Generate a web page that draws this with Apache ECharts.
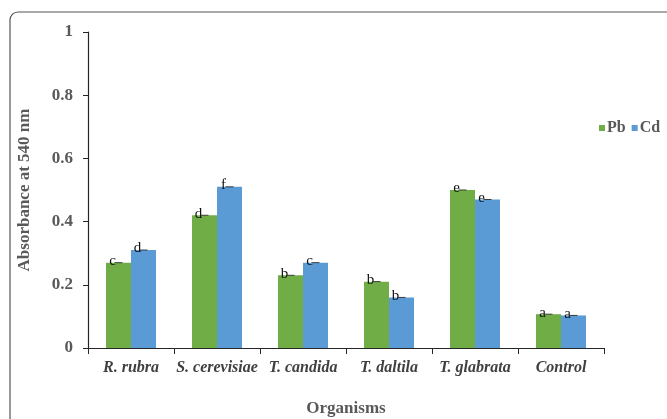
<!DOCTYPE html>
<html>
<head>
<meta charset="utf-8">
<script src="https://cdn.jsdelivr.net/npm/echarts@6/dist/echarts.min.js"></script>
<style>
  html, body { margin: 0; padding: 0; background: #fff; }
  #chart { width: 667px; height: 419px; }
</style>
</head>
<body>
<div id="chart"></div>
<script>
// Organisms on the x axis
const organisms = ['R. rubra', 'S. cerevisiae', 'T. candida', 'T. daltila', 'T. glabrata', 'Control'];
// Absorbance at 540 nm for each metal
const pbValues = [0.27, 0.42, 0.23, 0.21, 0.50, 0.107];
const cdValues = [0.31, 0.51, 0.27, 0.16, 0.47, 0.103];
// Significance letters above each bar
const pbLetters = ['c', 'd', 'b', 'b', 'e', 'a'];
const cdLetters = ['d', 'f', 'c', 'b', 'e', 'a'];
// Y axis ticks
const yTicks = [0, 0.2, 0.4, 0.6, 0.8, 1];

const serif = '"Liberation Serif", "Times New Roman", serif';
const BAR_W = 25;
const chart = echarts.init(document.getElementById('chart'));

function letterLabel(letters) {
  return {
    show: true,
    position: 'top',
    distance: 0,
    offset: [-6, 6],
    formatter: p => letters[p.dataIndex],
    fontFamily: serif,
    fontSize: 15,
    color: '#111'
  };
}

// short cap drawn at the top of each bar
function capSeries(values, seriesIdx) {
  return {
    type: 'custom',
    silent: true,
    z: 5,
    data: values.map((v, i) => [i, v]),
    renderItem: function (params, api) {
      const pt = api.coord([api.value(0), api.value(1)]);
      const cx = pt[0] + (seriesIdx === 0 ? -BAR_W / 2 : BAR_W / 2);
      return {
        type: 'line',
        shape: { x1: cx - 4, y1: pt[1], x2: cx + 4, y2: pt[1] },
        style: { stroke: '#3a3a3a', lineWidth: 1 }
      };
    }
  };
}

chart.setOption({
  backgroundColor: '#fff',
  animation: false,
  graphic: [{
    type: 'rect',
    shape: { x: 10, y: 12, width: 700, height: 460, r: [8, 0, 0, 0] },
    style: { fill: 'none', stroke: '#555', lineWidth: 1.2 },
    silent: true
  }],
  grid: { left: 88, right: 63, top: 32, bottom: 71, containLabel: false, outerBoundsMode: 'none' },
  legend: {
    data: ['Pb', 'Cd'],
    orient: 'horizontal',
    left: 599,
    top: 120,
    width: 68,
    padding: 0,
    itemWidth: 6,
    itemHeight: 6,
    itemGap: 6,
    icon: 'rect',
    textStyle: { fontFamily: serif, fontWeight: 'bold', fontSize: 16, color: '#595959', padding: [0, 0, 0, -3] }
  },
  xAxis: {
    type: 'category',
    data: organisms,
    name: 'Organisms',
    nameLocation: 'middle',
    nameGap: 52,
    nameTextStyle: { fontFamily: serif, fontWeight: 'bold', fontSize: 17, color: '#595959' },
    axisLine: { lineStyle: { color: '#262626', width: 1.2 } },
    axisTick: { show: true, length: 6, lineStyle: { color: '#262626' } },
    axisLabel: {
      margin: 12,
      fontFamily: serif,
      fontStyle: 'italic',
      fontWeight: 'bold',
      fontSize: 16,
      color: '#404040',
      interval: 0
    }
  },
  yAxis: {
    type: 'value',
    min: 0,
    max: 1,
    interval: 0.2,
    name: 'Absorbance at 540 nm',
    nameLocation: 'middle',
    nameGap: 55,
    nameTextStyle: { fontFamily: serif, fontWeight: 'bold', fontSize: 17, color: '#595959' },
    splitLine: { show: false },
    axisLine: { show: true, lineStyle: { color: '#262626', width: 1.2 } },
    axisTick: { show: true, length: 5, lineStyle: { color: '#262626' } },
    axisLabel: {
      margin: 15,
      fontFamily: serif,
      fontWeight: 'bold',
      fontSize: 17,
      color: '#595959',
      formatter: v => (yTicks.indexOf(Math.round(v * 10) / 10) >= 0 ? String(Math.round(v * 10) / 10) : '')
    }
  },
  series: [
    {
      name: 'Pb',
      type: 'bar',
      data: pbValues,
      barWidth: BAR_W,
      barGap: '0%',
      itemStyle: { color: '#70AD47' },
      label: letterLabel(pbLetters)
    },
    {
      name: 'Cd',
      type: 'bar',
      data: cdValues,
      barWidth: BAR_W,
      itemStyle: { color: '#5B9BD5' },
      label: letterLabel(cdLetters)
    },
    capSeries(pbValues, 0),
    capSeries(cdValues, 1)
  ]
});
</script>
</body>
</html>
